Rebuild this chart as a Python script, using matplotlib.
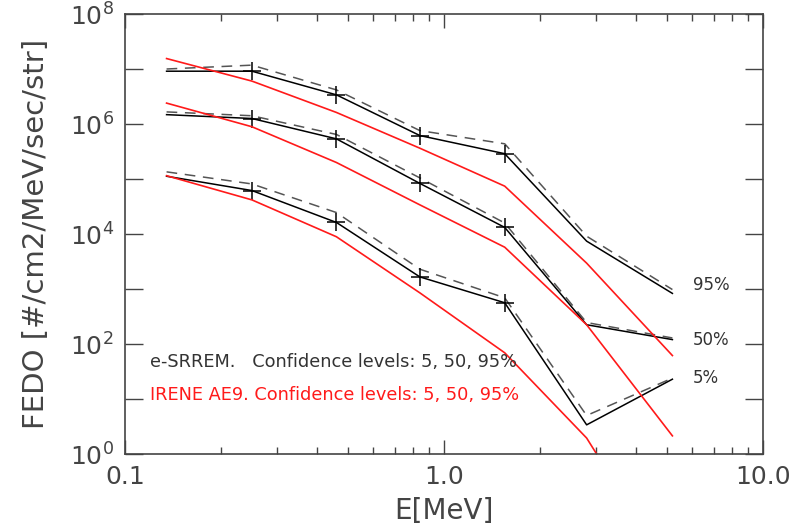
import numpy as np
import matplotlib
matplotlib.use("Agg")
import matplotlib.pyplot as plt
from matplotlib.ticker import FixedLocator, FuncFormatter

# Energies (MeV)
energy = [0.135, 0.25, 0.46, 0.84, 1.55, 2.8, 5.2]

# e-SRREM (log10 FEDO), solid and dashed
srrem_95 = [6.96, 6.96, 6.53, 5.79, 5.46, 3.87, 2.92]
srrem_95_d = [7.00, 7.07, 6.62, 5.88, 5.64, 3.96, 2.99]
srrem_50 = [6.17, 6.10, 5.73, 4.92, 4.12, 2.35, 2.08]
srrem_50_d = [6.22, 6.15, 5.81, 5.02, 4.20, 2.39, 2.11]
srrem_5 = [5.05, 4.79, 4.21, 3.22, 2.75, 0.53, 1.36]
srrem_5_d = [5.13, 4.91, 4.39, 3.36, 2.84, 0.70, 1.38]

# IRENE AE9 (log10 FEDO)
ae9_95 = [7.19, 6.78, 6.21, 5.56, 4.87, 3.47, 1.79]
ae9_50 = [6.38, 5.95, 5.30, 4.53, 3.76, 2.35, 0.33]
ae9_5 = [5.06, 4.62, 3.95, 2.93, 1.84, 0.29, -2.2]

xticks = [0.1, 1.0, 10.0]
xtick_labels = ["0.1", "1.0", "10.0"]
level_labels = ["95%", "50%", "5%"]

fig = plt.figure(figsize=(8.07, 5.28), dpi=100)
ax = fig.add_axes([125/807, 1-454/528, (763-125)/807, (454-14)/528])
ax.set_xscale("log")
ax.set_yscale("log")

E = np.array(energy)
for s, d in [(srrem_95, srrem_95_d), (srrem_50, srrem_50_d), (srrem_5, srrem_5_d)]:
    ax.plot(E, 10**np.array(d), color="#555555", lw=1.1, dashes=(7, 5))
    ax.plot(E, 10**np.array(s), color="black", lw=1.1, marker="+", ms=13,
            mew=1.1, markevery=[1, 2, 3, 4])
for r in [ae9_95, ae9_50, ae9_5]:
    ax.plot(E, 10**np.array(r), color="#ff1a1a", lw=1.2)

ax.set_xlim(0.1, 10.0)
ax.set_ylim(1, 1e8)

txtc = "#444444"
ax.xaxis.set_major_locator(FixedLocator(xticks))
ax.xaxis.set_major_formatter(FuncFormatter(
    lambda v, p: xtick_labels[xticks.index(round(v, 1))] if round(v, 1) in xticks else ""))
ax.yaxis.set_major_locator(FixedLocator([10.0**k for k in range(0, 9)]))
ax.yaxis.set_major_formatter(FuncFormatter(
    lambda v, p: (r"$10^{%d}$" % round(np.log10(v))) if round(np.log10(v)) % 2 == 0 else ""))
ax.yaxis.set_minor_locator(FixedLocator([]))
ax.tick_params(axis="both", which="both", direction="in", top=True, right=True,
               colors="#444444", labelcolor=txtc, labelsize=18)
ax.tick_params(axis="y", which="major", length=13, width=1, pad=8)
ax.tick_params(axis="x", which="major", length=10, width=1, pad=8)
ax.tick_params(axis="x", which="minor", length=5, width=1)
for sp in ax.spines.values():
    sp.set_color("#444444")
    sp.set_linewidth(1.2)

ax.set_xlabel("E[MeV]", fontsize=20, color=txtc, labelpad=6)
ax.set_ylabel("FEDO [#/cm2/MeV/sec/str]", fontsize=21, color=txtc, labelpad=14)

fig.text(150/807, 1-362/528, "e-SRREM.   Confidence levels: 5, 50, 95%",
         fontsize=12.8, color="#333333", va="center")
fig.text(150/807, 1-395/528, "IRENE AE9. Confidence levels: 5, 50, 95%",
         fontsize=12.8, color="#ff1a1a", va="center")
for lab, yp in zip(level_labels, [285, 340, 378]):
    fig.text(693/807, 1-yp/528, lab, fontsize=12, color="#333333", va="center")

fig.savefig("out.png", dpi=100)
